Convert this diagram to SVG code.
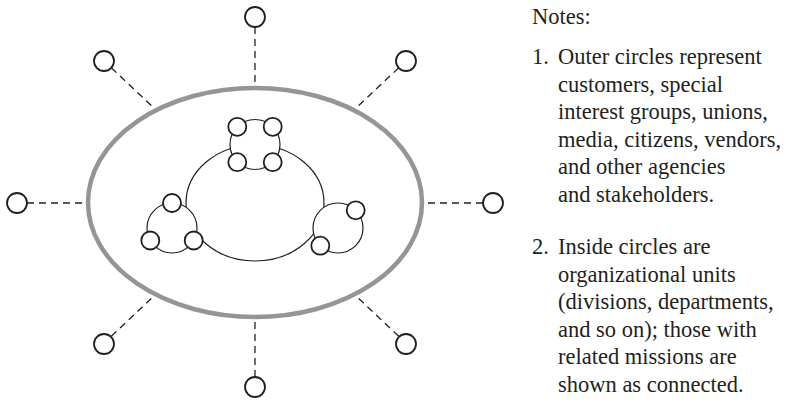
<svg xmlns="http://www.w3.org/2000/svg" width="794" height="403" viewBox="0 0 794 403">
<style>
.bound{fill:#fff;stroke:#939598;stroke-width:4.5}
.ext{fill:#fff;stroke:#231f20;stroke-width:1.8}
.unit{fill:#fff;stroke:#231f20;stroke-width:1.2}
.sub{fill:#fff;stroke:#231f20;stroke-width:1.8}
.dash{stroke:#231f20;stroke-width:1.3;stroke-dasharray:7 5;fill:none}
text{font-family:"Liberation Serif","Times New Roman",serif;font-size:22.5px;fill:#231f20}
</style>
<rect width="794" height="403" fill="#fff"/>
<g id="connectors">
<line class="dash" x1="255" y1="27" x2="255" y2="88"/>
<line class="dash" x1="255" y1="377" x2="255" y2="317"/>
<line class="dash" x1="27" y1="203" x2="88" y2="203"/>
<line class="dash" x1="483" y1="203" x2="422" y2="203"/>
<line class="dash" x1="111.3" y1="67.8" x2="156" y2="110"/>
<line class="dash" x1="398.7" y1="67.8" x2="354" y2="110"/>
<line class="dash" x1="111.3" y1="336.2" x2="156" y2="294"/>
<line class="dash" x1="398.7" y1="336.2" x2="354" y2="294"/>
</g>
<g id="organization">
<ellipse class="bound" cx="255" cy="202.5" rx="167" ry="114.5"/>
</g>
<g id="stakeholders">
<circle class="ext" cx="255" cy="17" r="10"/>
<circle class="ext" cx="255" cy="387" r="10"/>
<circle class="ext" cx="17" cy="203" r="10"/>
<circle class="ext" cx="493" cy="203" r="10"/>
<circle class="ext" cx="104" cy="61" r="10"/>
<circle class="ext" cx="406" cy="61" r="10"/>
<circle class="ext" cx="104" cy="344" r="10"/>
<circle class="ext" cx="406" cy="344" r="10"/>
</g>
<g id="central-unit">
<ellipse class="unit" cx="255" cy="203" rx="69" ry="58"/>
</g>
<g id="top-cluster">
<circle class="unit" cx="255" cy="144.5" r="25"/>
<circle class="sub" cx="237.3" cy="126.8" r="9"/>
<circle class="sub" cx="272.7" cy="126.8" r="9"/>
<circle class="sub" cx="237.3" cy="162.2" r="9"/>
<circle class="sub" cx="272.7" cy="162.2" r="9"/>
</g>
<g id="left-cluster">
<circle class="unit" cx="172" cy="228" r="25"/>
<circle class="sub" cx="172" cy="203" r="9"/>
<circle class="sub" cx="150.3" cy="240.5" r="9"/>
<circle class="sub" cx="193.7" cy="240.5" r="9"/>
</g>
<g id="right-cluster">
<circle class="unit" cx="338" cy="228" r="25"/>
<circle class="sub" cx="355.7" cy="210.3" r="9"/>
<circle class="sub" cx="320.3" cy="245.7" r="9"/>
</g>
<g id="notes">
<text x="532" y="24">Notes:</text>
<text x="532" y="64">1.</text>
<text x="558" y="64">Outer circles represent</text>
<text x="558" y="91.5">customers, special</text>
<text x="558" y="119">interest groups, unions,</text>
<text x="558" y="146.5">media, citizens, vendors,</text>
<text x="558" y="174">and other agencies</text>
<text x="558" y="201.5">and stakeholders.</text>
<text x="532" y="254">2.</text>
<text x="558" y="254">Inside circles are</text>
<text x="558" y="281.5">organizational units</text>
<text x="558" y="309">(divisions, departments,</text>
<text x="558" y="336.5">and so on); those with</text>
<text x="558" y="364">related missions are</text>
<text x="558" y="391.5">shown as connected.</text>
</g>
</svg>
